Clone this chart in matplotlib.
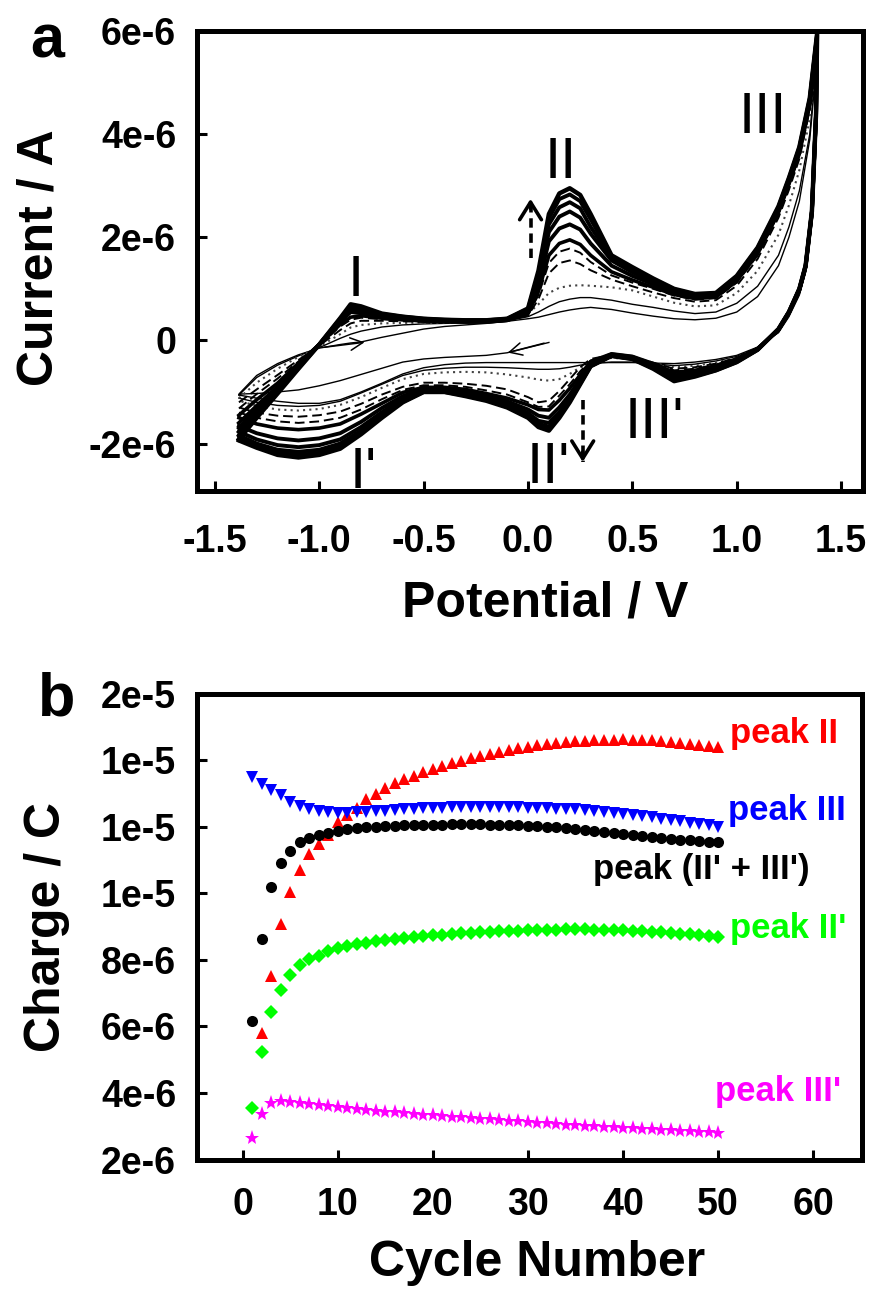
import matplotlib
matplotlib.use("Agg")
import matplotlib.pyplot as plt
import numpy as np

plt.rcParams['font.family'] = ['Liberation Sans', 'DejaVu Sans']
plt.rcParams['font.weight'] = 'bold'
plt.rcParams['axes.unicode_minus'] = False

#%% panel a data: CV sweeps, potential in V, current in uA

# first cycle starts near 0.1 V going negative
e_init = [0.10, 0.00, -0.10, -0.20, -0.30, -0.40, -0.50, -0.60, -0.70, -0.80,
          -0.90, -1.00, -1.10, -1.20, -1.30, -1.385]
i_init = [-0.04, -0.14, -0.24, -0.29, -0.31, -0.33, -0.36, -0.42, -0.54, -0.66,
          -0.78, -0.88, -0.96, -1.00, -1.03, -1.04]

# anodic sweep potentials
e_fwd = [-1.385, -1.30, -1.20, -1.10, -1.00, -0.90, -0.85, -0.80, -0.70, -0.60,
         -0.50, -0.40, -0.30, -0.20, -0.10, 0.00, 0.05, 0.10, 0.15, 0.20,
         0.25, 0.30, 0.40, 0.50, 0.60, 0.70, 0.80, 0.90, 1.00, 1.10,
         1.20, 1.25, 1.30, 1.35, 1.385]

# cathodic sweep potentials
e_rev = [1.385, 1.38, 1.36, 1.33, 1.30, 1.25, 1.20, 1.10, 1.00, 0.90,
         0.80, 0.70, 0.60, 0.50, 0.40, 0.30, 0.25, 0.20, 0.15, 0.10,
         0.05, 0.00, -0.10, -0.20, -0.30, -0.40, -0.50, -0.60, -0.70, -0.80,
         -0.90, -1.00, -1.10, -1.20, -1.30, -1.385]

i_fwd_c1 = [-1.04, -0.68, -0.45, -0.28, -0.15, -0.08, -0.05, -0.03, 0.06, 0.14,
            0.22, 0.27, 0.30, 0.33, 0.37, 0.42, 0.45, 0.50, 0.55, 0.59,
            0.62, 0.64, 0.60, 0.53, 0.47, 0.42, 0.40, 0.43, 0.55, 0.85,
            1.45, 2.00, 2.70, 3.90, 5.50]
i_rev_c1 = [5.50, 4.10, 2.30, 1.32, 0.88, 0.46, 0.15, -0.13, -0.29, -0.37,
            -0.42, -0.45, -0.44, -0.43, -0.43, -0.43, -0.43, -0.43, -0.43, -0.43,
            -0.43, -0.43, -0.43, -0.43, -0.44, -0.47, -0.53, -0.65, -0.83, -1.00,
            -1.15, -1.22, -1.22, -1.18, -1.12, -1.06]

i_fwd_c2 = [-1.06, -0.72, -0.48, -0.30, -0.14, 0.04, 0.12, 0.18, 0.26, 0.30,
            0.32, 0.33, 0.34, 0.35, 0.38, 0.46, 0.55, 0.66, 0.75, 0.80,
            0.83, 0.83, 0.78, 0.70, 0.64, 0.57, 0.52, 0.55, 0.72, 1.05,
            1.65, 2.20, 2.90, 4.00, 5.60]
i_rev_c2 = [5.60, 4.20, 2.35, 1.35, 0.90, 0.48, 0.16, -0.14, -0.31, -0.40,
            -0.46, -0.49, -0.45, -0.42, -0.42, -0.45, -0.48, -0.52, -0.55, -0.56,
            -0.56, -0.55, -0.53, -0.52, -0.52, -0.54, -0.58, -0.68, -0.85, -1.02,
            -1.18, -1.26, -1.28, -1.26, -1.20, -1.12]

i_fwd_c3 = [-1.12, -0.82, -0.55, -0.32, -0.12, 0.12, 0.25, 0.30, 0.33, 0.34,
            0.34, 0.34, 0.35, 0.35, 0.38, 0.52, 0.70, 0.92, 1.02, 1.06,
            1.07, 1.06, 1.03, 0.97, 0.85, 0.73, 0.66, 0.68, 0.92, 1.35,
            2.05, 2.62, 3.30, 4.30, 5.70]
i_rev_c3 = [5.70, 4.25, 2.40, 1.38, 0.93, 0.50, 0.18, -0.15, -0.33, -0.43,
            -0.49, -0.52, -0.44, -0.36, -0.34, -0.42, -0.52, -0.65, -0.75, -0.78,
            -0.76, -0.72, -0.66, -0.62, -0.61, -0.62, -0.65, -0.75, -0.92, -1.10,
            -1.25, -1.33, -1.36, -1.34, -1.27, -1.17]

i_fwd_c4 = [-1.20, -0.95, -0.67, -0.38, -0.10, 0.20, 0.33, 0.38, 0.38, 0.37,
            0.36, 0.36, 0.36, 0.36, 0.39, 0.48, 0.80, 1.30, 1.50, 1.55,
            1.48, 1.36, 1.18, 1.05, 0.93, 0.82, 0.75, 0.78, 1.06, 1.58,
            2.38, 2.92, 3.52, 4.48, 5.80]
i_rev_c4 = [5.80, 4.30, 2.43, 1.40, 0.95, 0.52, 0.19, -0.15, -0.34, -0.45,
            -0.52, -0.55, -0.43, -0.32, -0.28, -0.36, -0.52, -0.75, -0.98, -1.17,
            -1.20, -1.10, -0.95, -0.88, -0.84, -0.82, -0.82, -0.90, -1.05, -1.23,
            -1.38, -1.45, -1.48, -1.46, -1.40, -1.30]

i_fwd_c5 = [-1.32, -1.04, -0.74, -0.41, -0.09, 0.27, 0.40, 0.44, 0.41, 0.39,
            0.37, 0.36, 0.36, 0.36, 0.39, 0.50, 0.88, 1.50, 1.72, 1.78,
            1.70, 1.52, 1.26, 1.12, 1.00, 0.87, 0.79, 0.82, 1.12, 1.65,
            2.45, 3.00, 3.60, 4.55, 5.83]
i_rev_c5 = [5.83, 4.33, 2.45, 1.41, 0.96, 0.52, 0.19, -0.15, -0.35, -0.47,
            -0.55, -0.58, -0.44, -0.31, -0.27, -0.39, -0.60, -0.85, -1.07, -1.28,
            -1.29, -1.20, -1.05, -0.97, -0.90, -0.87, -0.87, -0.96, -1.14, -1.34,
            -1.50, -1.57, -1.60, -1.57, -1.50, -1.40]

i_fwd_c7 = [-1.45, -1.15, -0.83, -0.44, -0.08, 0.31, 0.45, 0.48, 0.43, 0.40,
            0.38, 0.36, 0.36, 0.36, 0.39, 0.52, 0.95, 1.65, 1.88, 1.95,
            1.86, 1.65, 1.33, 1.17, 1.03, 0.89, 0.81, 0.84, 1.15, 1.68,
            2.48, 3.03, 3.62, 4.58, 5.85]
i_rev_c7 = [5.85, 4.35, 2.46, 1.42, 0.97, 0.53, 0.20, -0.16, -0.36, -0.49,
            -0.58, -0.62, -0.45, -0.31, -0.26, -0.41, -0.67, -0.93, -1.16, -1.35,
            -1.34, -1.25, -1.12, -1.03, -0.95, -0.91, -0.91, -1.01, -1.22, -1.43,
            -1.62, -1.70, -1.73, -1.70, -1.62, -1.50]

i_fwd_c10 = [-1.60, -1.27, -0.90, -0.47, -0.08, 0.36, 0.55, 0.53, 0.45, 0.41,
             0.38, 0.37, 0.36, 0.36, 0.39, 0.55, 1.08, 1.92, 2.17, 2.25,
             2.15, 1.88, 1.45, 1.25, 1.09, 0.92, 0.84, 0.86, 1.19, 1.71,
             2.51, 3.06, 3.66, 4.61, 5.87]
i_rev_c10 = [5.87, 4.37, 2.47, 1.43, 0.98, 0.54, 0.21, -0.16, -0.38, -0.52,
             -0.62, -0.68, -0.48, -0.32, -0.27, -0.44, -0.75, -1.05, -1.30, -1.50,
             -1.46, -1.34, -1.18, -1.07, -0.99, -0.94, -0.94, -1.08, -1.31, -1.58,
             -1.80, -1.90, -1.94, -1.90, -1.80, -1.66]

i_fwd_c15 = [-1.70, -1.34, -0.94, -0.49, -0.08, 0.39, 0.60, 0.58, 0.48, 0.43,
             0.40, 0.38, 0.37, 0.37, 0.40, 0.58, 1.18, 2.10, 2.40, 2.50,
             2.38, 2.07, 1.55, 1.32, 1.13, 0.95, 0.86, 0.88, 1.21, 1.74,
             2.54, 3.09, 3.69, 4.64, 5.90]
i_rev_c15 = [5.90, 4.39, 2.49, 1.44, 0.99, 0.55, 0.21, -0.17, -0.40, -0.55,
             -0.66, -0.73, -0.51, -0.34, -0.29, -0.47, -0.80, -1.12, -1.40, -1.60,
             -1.56, -1.41, -1.23, -1.11, -1.03, -0.97, -0.97, -1.13, -1.39, -1.68,
             -1.92, -2.03, -2.07, -2.03, -1.92, -1.77]

i_fwd_c22 = [-1.77, -1.40, -0.98, -0.52, -0.08, 0.41, 0.64, 0.61, 0.50, 0.45,
             0.41, 0.39, 0.38, 0.38, 0.41, 0.60, 1.25, 2.25, 2.58, 2.68,
             2.56, 2.20, 1.60, 1.37, 1.16, 0.97, 0.88, 0.90, 1.23, 1.77,
             2.57, 3.12, 3.72, 4.67, 5.92]
i_rev_c22 = [5.92, 4.40, 2.50, 1.45, 1.00, 0.55, 0.22, -0.18, -0.41, -0.57,
             -0.68, -0.76, -0.53, -0.35, -0.30, -0.49, -0.83, -1.16, -1.45, -1.67,
             -1.62, -1.45, -1.27, -1.14, -1.06, -0.99, -0.99, -1.17, -1.45, -1.75,
             -2.00, -2.12, -2.16, -2.12, -2.00, -1.84]

i_fwd_c32 = [-1.84, -1.46, -1.01, -0.54, -0.08, 0.42, 0.67, 0.64, 0.51, 0.46,
             0.42, 0.40, 0.39, 0.39, 0.42, 0.61, 1.30, 2.37, 2.74, 2.83,
             2.70, 2.35, 1.63, 1.40, 1.18, 0.99, 0.89, 0.91, 1.24, 1.79,
             2.59, 3.14, 3.74, 4.69, 5.94]
i_rev_c32 = [5.94, 4.40, 2.50, 1.45, 1.00, 0.55, 0.22, -0.18, -0.42, -0.58,
             -0.69, -0.78, -0.54, -0.36, -0.30, -0.50, -0.84, -1.18, -1.48, -1.72,
             -1.66, -1.48, -1.29, -1.16, -1.07, -1.00, -1.00, -1.19, -1.48, -1.79,
             -2.06, -2.18, -2.22, -2.18, -2.05, -1.90]

i_fwd_c50 = [-1.92, -1.50, -1.03, -0.55, -0.08, 0.43, 0.70, 0.66, 0.52, 0.46,
             0.42, 0.40, 0.39, 0.39, 0.42, 0.62, 1.35, 2.45, 2.85, 2.95,
             2.82, 2.45, 1.65, 1.42, 1.20, 1.00, 0.90, 0.92, 1.25, 1.80,
             2.60, 3.15, 3.75, 4.70, 5.95]
i_rev_c50 = [5.95, 4.40, 2.50, 1.45, 1.00, 0.55, 0.22, -0.18, -0.42, -0.58,
             -0.70, -0.79, -0.55, -0.36, -0.30, -0.50, -0.85, -1.20, -1.50, -1.75,
             -1.68, -1.50, -1.30, -1.17, -1.08, -1.00, -1.00, -1.20, -1.50, -1.82,
             -2.10, -2.22, -2.27, -2.22, -2.08, -1.94]

#%% panel b data: integrated charge (1e-6 C) per cycle

cycle = list(range(1, 51))

q_peak_II = [5.80, 7.52, 9.08, 10.04, 10.69, 11.17, 11.49, 11.76, 12.13,
             12.35, 12.57, 12.83, 12.99, 13.15, 13.30, 13.42, 13.53, 13.63, 13.73,
             13.82, 13.90, 13.98, 14.05, 14.12, 14.19, 14.25, 14.30, 14.36, 14.40,
             14.44, 14.48, 14.51, 14.54, 14.56, 14.58, 14.60, 14.61, 14.61, 14.62,
             14.61, 14.60, 14.59, 14.57, 14.55, 14.52, 14.49, 14.46, 14.43, 14.40]
q_peak_III = [13.50, 13.27, 13.10, 12.94, 12.75, 12.62, 12.52, 12.46, 12.43, 12.42,
              12.42, 12.43, 12.44, 12.46, 12.48, 12.50, 12.52, 12.54, 12.55, 12.56,
              12.57, 12.58, 12.59, 12.60, 12.60, 12.60, 12.60, 12.59, 12.58, 12.57,
              12.56, 12.55, 12.54, 12.53, 12.52, 12.50, 12.48, 12.45, 12.42, 12.39,
              12.36, 12.32, 12.28, 12.24, 12.20, 12.16, 12.12, 12.08, 12.04, 12.00]
q_peak_sum = [6.15, 8.63, 10.20, 10.90, 11.27, 11.53, 11.66, 11.75, 11.82, 11.88,
              11.92, 11.95, 11.98, 12.00, 12.02, 12.03, 12.04, 12.05, 12.05, 12.06,
              12.06, 12.07, 12.07, 12.07, 12.07, 12.06, 12.06, 12.05, 12.04, 12.03,
              12.01, 12.00, 11.98, 11.96, 11.93, 11.90, 11.87, 11.84, 11.81, 11.78,
              11.75, 11.72, 11.69, 11.66, 11.63, 11.61, 11.59, 11.57, 11.55, 11.53]
q_peak_IIp = [3.55, 5.22, 6.44, 7.09, 7.54, 7.86, 8.02, 8.12, 8.28, 8.37,
              8.43, 8.48, 8.52, 8.56, 8.60, 8.63, 8.66, 8.69, 8.72, 8.74,
              8.76, 8.78, 8.80, 8.82, 8.84, 8.85, 8.86, 8.87, 8.88, 8.89,
              8.90, 8.91, 8.91, 8.92, 8.92, 8.92, 8.91, 8.91, 8.90, 8.89,
              8.88, 8.86, 8.85, 8.83, 8.81, 8.79, 8.77, 8.75, 8.72, 8.70]
q_peak_IIIp = [2.64, 3.38, 3.70, 3.77, 3.74, 3.70, 3.66, 3.63, 3.60, 3.57,
               3.54, 3.51, 3.48, 3.46, 3.44, 3.42, 3.40, 3.37, 3.35, 3.33,
               3.31, 3.29, 3.27, 3.25, 3.23, 3.21, 3.19, 3.17, 3.15, 3.13,
               3.11, 3.09, 3.07, 3.05, 3.03, 3.02, 3.00, 2.99, 2.97, 2.96,
               2.94, 2.93, 2.91, 2.90, 2.88, 2.87, 2.85, 2.84, 2.82, 2.80]


def sci_fmt(v, pos):
    if abs(v) < 1e-12:
        return "0"
    m, e = f"{v:.0e}".split("e")
    return f"{m}e{int(e)}"


def style_axes(ax, xpad):
    for s in ax.spines.values():
        s.set_linewidth(3.6)
    ax.tick_params(direction='in', length=7, width=2.2, labelsize=27,
                   top=False, right=False)
    ax.tick_params(axis='y', pad=15)
    ax.tick_params(axis='x', pad=xpad)
    ax.yaxis.set_major_formatter(plt.FuncFormatter(sci_fmt))


fig = plt.figure(figsize=(8.72, 13.01), dpi=100)

#%% panel a

ax = fig.add_axes([0.2259, 0.6226, 0.7638, 0.3536])

uA = 1e-6
thin = dict(color='black', lw=1.0)
sweeps = [
    (i_fwd_c2, i_rev_c2, thin),
    (i_fwd_c3, i_rev_c3, dict(color='#444444', lw=1.5, ls=(0, (1, 2)))),
    (i_fwd_c4, i_rev_c4, dict(color='black', lw=1.4, ls=(0, (5, 2.5)))),
    (i_fwd_c5, i_rev_c5, dict(color='black', lw=1.4, ls=(0, (5, 2.5)))),
    (i_fwd_c7, i_rev_c7, dict(color='black', lw=2.6)),
    (i_fwd_c10, i_rev_c10, dict(color='black', lw=2.8)),
    (i_fwd_c15, i_rev_c15, dict(color='black', lw=2.8)),
    (i_fwd_c22, i_rev_c22, dict(color='black', lw=2.8)),
    (i_fwd_c32, i_rev_c32, dict(color='black', lw=2.8)),
    (i_fwd_c50, i_rev_c50, dict(color='black', lw=3.2)),
]

e1 = e_init + e_fwd + e_rev
i1 = i_init + i_fwd_c1 + i_rev_c1
ax.plot(e1, np.array(i1) * uA, **thin)
for i_f, i_r, st in sweeps:
    ax.plot(e_fwd + e_rev, np.array(i_f + i_r) * uA, solid_joinstyle='round', **st)

# sweep direction arrows of the first cycle
ax.annotate('', xy=(-0.77, -0.03e-6), xytext=(-0.99, -0.14e-6),
            arrowprops=dict(arrowstyle='->,head_length=0.5,head_width=0.25',
                            lw=1.1, color='black', mutation_scale=18))
ax.annotate('', xy=(-0.11, -0.25e-6), xytext=(0.09, -0.04e-6),
            arrowprops=dict(arrowstyle='->,head_length=0.5,head_width=0.25',
                            lw=1.1, color='black', mutation_scale=18))

# dashed growth arrows
for x0, y0, y1 in [(0.012, 1.60e-6, 2.75e-6), (0.262, -1.15e-6, -2.36e-6)]:
    ax.plot([x0, x0], [y0, y1], color='black', lw=2.6, ls=(0, (2.6, 1.6)))
    d = 0.25e-6 if y1 > y0 else -0.25e-6
    ax.annotate('', xy=(x0, y1 + 0.05e-6 * np.sign(d)), xytext=(x0, y1 - d),
                arrowprops=dict(arrowstyle='->,head_length=0.45,head_width=0.28',
                                lw=2.6, color='black', mutation_scale=28))

peak_labels = [("I", -0.827, 0.87e-6), ("I'", -0.79, -2.87e-6),
               ("II", 0.158, 3.14e-6), ("II'", 0.096, -2.77e-6),
               ("III", 1.126, 4.03e-6), ("III'", 0.606, -1.90e-6)]
for txt, x, y in peak_labels:
    ax.text(x, y, txt, fontsize=42, fontweight='normal', ha='center',
            va='baseline')

ax.set_xlim(-1.586, 1.605)
ax.set_ylim(-2.92e-6, 6.0e-6)
ax.set_xticks([-1.5, -1.0, -0.5, 0.0, 0.5, 1.0, 1.5])
ax.set_yticks([-2e-6, 0, 2e-6, 4e-6, 6e-6])
ax.xaxis.set_major_formatter(plt.FormatStrFormatter('%.1f'))
style_axes(ax, 24)

#%% panel b

ax2 = fig.add_axes([0.2259, 0.1087, 0.7623, 0.3582])

mk = dict(ls='none', markeredgewidth=0)
ax2.plot(cycle[1:], np.array(q_peak_II) * 1e-6, marker='^', ms=9, color='#ff0000', **mk)
ax2.plot(cycle, np.array(q_peak_III) * 1e-6, marker='v', ms=9, color='#0000ff', **mk)
ax2.plot(cycle, np.array(q_peak_sum) * 1e-6, marker='o', ms=8, color='black', **mk)
ax2.plot(cycle, np.array(q_peak_IIp) * 1e-6, marker='D', ms=7, color='#00ff00', **mk)
ax2.plot(cycle, np.array(q_peak_IIIp) * 1e-6, marker='*', ms=11, color='#ff00ff', **mk)

series_labels = [("peak II", 51.2, 14.8e-6, '#ff0000'),
                 ("peak III", 51.0, 12.5e-6, '#0000ff'),
                 ("peak (II' + III')", 36.8, 10.7e-6, 'black'),
                 ("peak II'", 51.2, 8.95e-6, '#00ff00'),
                 ("peak III'", 49.7, 4.05e-6, '#ff00ff')]
for txt, x, y, c in series_labels:
    ax2.text(x, y, txt, fontsize=25, color=c, ha='left', va='center')

ax2.set_xlim(-4.8, 65.1)
ax2.set_ylim(2e-6, 1.6e-5)
ax2.set_xticks([0, 10, 20, 30, 40, 50, 60])
ax2.set_yticks([2e-6, 4e-6, 6e-6, 8e-6, 1e-5, 1.2e-5, 1.4e-5, 1.6e-5])
style_axes(ax2, 20)

#%% labels

H = 1301.0
W = 872.0
fig.text(39 / W, 1 - 258 / H, "Current / A", rotation=90, fontsize=36,
         ha='center', va='center')
fig.text(545 / W, 1 - 603 / H, "Potential / V", fontsize=36,
         ha='center', va='center')
fig.text(47 / W, 1 - 927 / H, "Charge / C", rotation=90, fontsize=36,
         ha='center', va='center')
fig.text(537 / W, 1 - 1263 / H, "Cycle Number", fontsize=36,
         ha='center', va='center')
fig.text(47 / W, 1 - 58 / H, "a", fontsize=44, ha='center', va='baseline')
fig.text(57 / W, 1 - 715 / H, "b", fontsize=44, ha='center', va='baseline')

fig.savefig('out.png', dpi=100)
